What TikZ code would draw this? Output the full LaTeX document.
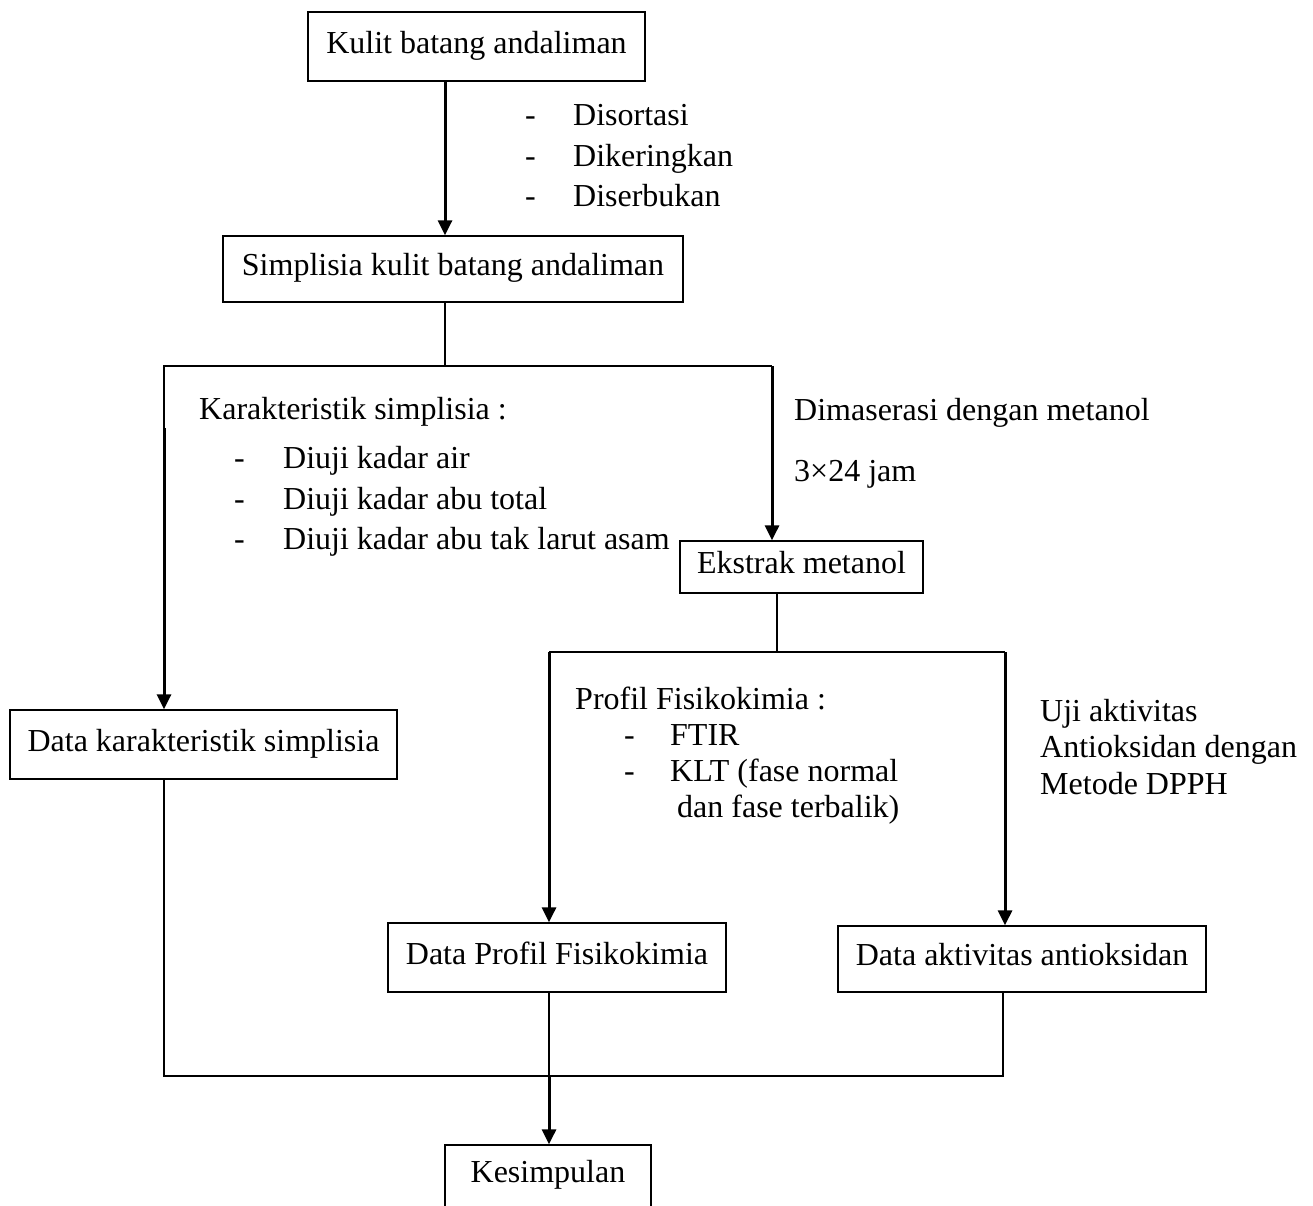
\documentclass[tikz,border=0pt]{standalone}
\usepackage{fontspec}
\setmainfont{Liberation Serif}
\usetikzlibrary{arrows.meta}
\newcommand\dashitem[2]{\makebox[#1][l]{-}#2}
\tikzset{
  txt/.style={font=\fontsize{32}{38}\selectfont},
  box/.style={txt, draw=black, line width=1.3pt, inner sep=0pt, text height=22pt, text depth=9pt},
  lbl/.style={txt, inner sep=0pt, anchor=base west},
  thinln/.style={draw=black, line width=1.3pt},
  arr/.style={draw=black, line width=3pt, -{Triangle[length=15pt,width=14pt]}}
}
\begin{document}
\begin{tikzpicture}[x=1pt,y=-1pt]
\useasboundingbox (0,0) rectangle (1313,1205);
\fill[white] (0,0) rectangle (1313,1205);
\clip (0,0) rectangle (1313,1205);

% boxes
\node[box, minimum width=337pt, minimum height=69pt] (kulit) at (476.5,46.5) {Kulit batang andaliman};
\node[box, minimum width=460pt, minimum height=66pt] (simp) at (453,269) {Simplisia kulit batang andaliman};
\node[box, minimum width=387pt, minimum height=69pt] (datak) at (203.5,744.5) {Data karakteristik simplisia};
\node[box, minimum width=243pt, minimum height=52pt] (ekstrak) at (801.5,567) {Ekstrak metanol};
\node[box, minimum width=338pt, minimum height=69pt] (datap) at (557,957.5) {Data Profil Fisikokimia};
\node[box, minimum width=368pt, minimum height=66pt] (dataa) at (1022,959) {Data aktivitas antioksidan};
\node[box, minimum width=206pt, minimum height=62pt] (kes) at (548,1176) {Kesimpulan};

% junction coordinates
\coordinate (ca) at (445,0);
\coordinate (sm) at (445,366);
\coordinate (sl) at (164,366);
\coordinate (sr) at (772,366);
\coordinate (lstart) at (164,428);
\coordinate (pm) at (777,652);
\coordinate (pl) at (549,652);
\coordinate (pr) at (1005,652);
\coordinate (bl) at (164,1076);
\coordinate (bm) at (549,1076);
\coordinate (br) at (1003,1076);

% connectors
\draw[arr] (kulit.south -| ca) -- (simp.north -| ca);
\draw[thinln] (simp.south -| sm) -- (sm);
\draw[thinln] (lstart) -- (sl) -- (sr);
\draw[arr] (lstart) -- (datak.north -| sl);
\draw[arr] (sr) -- (ekstrak.north -| sr);
\draw[thinln] (ekstrak.south -| pm) -- (pm);
\draw[thinln] (pl) -- (pr);
\draw[arr] (pl) -- (datap.north -| pl);
\draw[arr] (pr) -- (dataa.north -| pr);
\draw[thinln] (datak.south -| bl) -- (bl) -- (br) -- (dataa.south -| br);
\draw[thinln] (datap.south -| bm) -- (bm);
\draw[arr] (bm) -- (kes.north -| bm);

% labels
\node[lbl] (t1) at (525,125) {\dashitem{48pt}{Disortasi}};
\node[lbl] (t2) at (525,166) {\dashitem{48pt}{Dikeringkan}};
\node[lbl] (t3) at (525,206) {\dashitem{48pt}{Diserbukan}};

\node[lbl] (k0) at (199,419) {Karakteristik simplisia :};
\node[lbl] (k1) at (234,468) {\dashitem{49pt}{Diuji kadar air}};
\node[lbl] (k2) at (234,509) {\dashitem{49pt}{Diuji kadar abu total}};
\node[lbl] (k3) at (234,549) {\dashitem{49pt}{Diuji kadar abu tak larut asam}};

\node[lbl] (m1) at (794,420) {Dimaserasi dengan metanol};
\node[lbl] (m2) at (794,481) {3×24 jam};

\node[lbl] (p0) at (575,709) {Profil Fisikokimia :};
\node[lbl] (p1) at (624,745) {\dashitem{46pt}{FTIR}};
\node[lbl] (p2) at (624,781) {\dashitem{46pt}{KLT (fase normal}};
\node[lbl] (p3) at (677,817) {dan fase terbalik)};

\node[lbl] (u1) at (1040,721) {Uji aktivitas};
\node[lbl] (u2) at (1040,757) {Antioksidan dengan};
\node[lbl] (u3) at (1040,794) {Metode DPPH};
\end{tikzpicture}
\end{document}
